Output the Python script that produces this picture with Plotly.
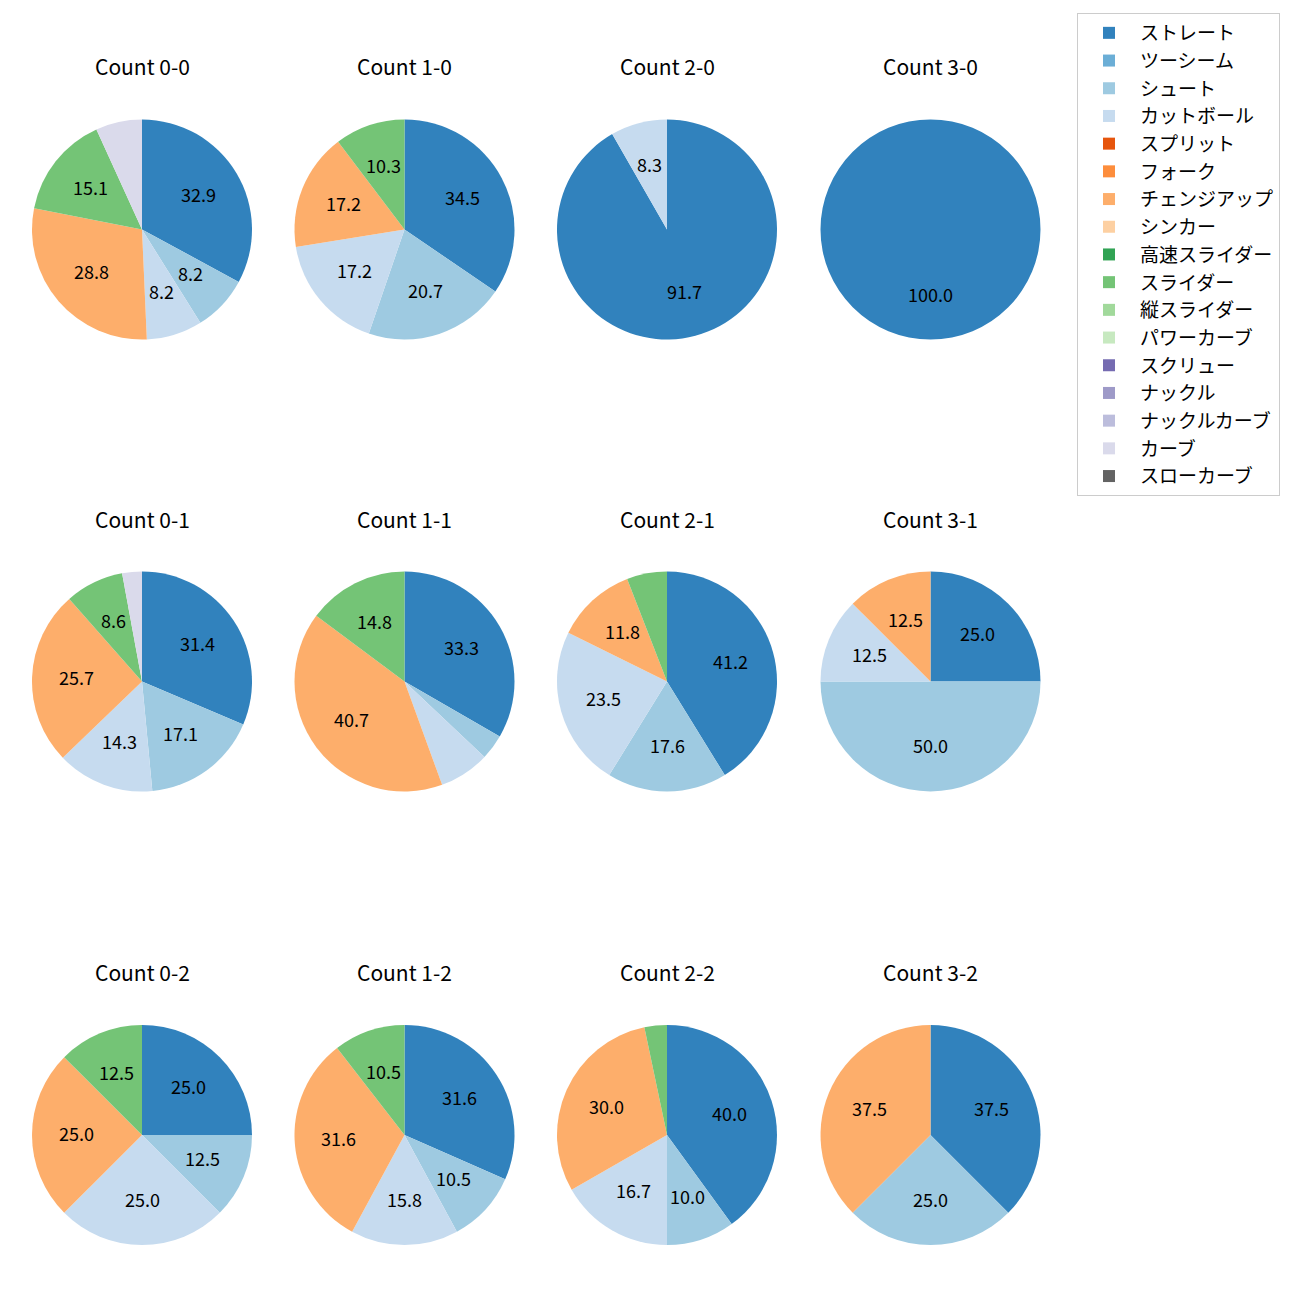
import math
import plotly.graph_objects as go

# ---------------- data ----------------
pitch_types = ["ストレート", "ツーシーム", "シュート", "カットボール", "スプリット", "フォーク",
               "チェンジアップ", "シンカー", "高速スライダー", "スライダー", "縦スライダー",
               "パワーカーブ", "スクリュー", "ナックル", "ナックルカーブ", "カーブ", "スローカーブ"]
pitch_colors = ["#3182bd", "#6baed6", "#9ecae1", "#c6dbef", "#e6550d", "#fd8d3c",
                "#fdae6b", "#fdd0a2", "#31a354", "#74c476", "#a1d99b",
                "#c7e9c0", "#756bb1", "#9e9ac8", "#bcbddc", "#dadaeb", "#636363"]

count_titles = ["Count 0-0", "Count 1-0", "Count 2-0", "Count 3-0",
                "Count 0-1", "Count 1-1", "Count 2-1", "Count 3-1",
                "Count 0-2", "Count 1-2", "Count 2-2", "Count 3-2"]

#            Str   2S   Sht   Cut  Spl Frk  Chg  Snk HSl  Sl   VSl PC Scr Kn KnC  Crv SlC
count_0_0 = [32.9, 0, 8.2, 8.2, 0, 0, 28.8, 0, 0, 15.1, 0, 0, 0, 0, 0, 6.8, 0]
count_1_0 = [34.5, 0, 20.7, 17.2, 0, 0, 17.2, 0, 0, 10.3, 0, 0, 0, 0, 0, 0, 0]
count_2_0 = [91.7, 0, 0, 8.3, 0, 0, 0, 0, 0, 0, 0, 0, 0, 0, 0, 0, 0]
count_3_0 = [100.0, 0, 0, 0, 0, 0, 0, 0, 0, 0, 0, 0, 0, 0, 0, 0, 0]
count_0_1 = [31.4, 0, 17.1, 14.3, 0, 0, 25.7, 0, 0, 8.6, 0, 0, 0, 0, 0, 2.9, 0]
count_1_1 = [33.3, 0, 3.7, 7.4, 0, 0, 40.7, 0, 0, 14.8, 0, 0, 0, 0, 0, 0, 0]
count_2_1 = [41.2, 0, 17.6, 23.5, 0, 0, 11.8, 0, 0, 5.9, 0, 0, 0, 0, 0, 0, 0]
count_3_1 = [25.0, 0, 50.0, 12.5, 0, 0, 12.5, 0, 0, 0, 0, 0, 0, 0, 0, 0, 0]
count_0_2 = [25.0, 0, 12.5, 25.0, 0, 0, 25.0, 0, 0, 12.5, 0, 0, 0, 0, 0, 0, 0]
count_1_2 = [31.6, 0, 10.5, 15.8, 0, 0, 31.6, 0, 0, 10.5, 0, 0, 0, 0, 0, 0, 0]
count_2_2 = [40.0, 0, 10.0, 16.7, 0, 0, 30.0, 0, 0, 3.3, 0, 0, 0, 0, 0, 0, 0]
count_3_2 = [37.5, 0, 25.0, 0, 0, 0, 37.5, 0, 0, 0, 0, 0, 0, 0, 0, 0, 0]

all_counts = [count_0_0, count_1_0, count_2_0, count_3_0,
              count_0_1, count_1_1, count_2_1, count_3_1,
              count_0_2, count_1_2, count_2_2, count_3_2]

# ---------------- layout geometry (pixels) ----------------
W = H = 1300
col_cx = [142, 404.5, 667, 930.5]
row_cy = [229.5, 681.5, 1135]
R = 110
title_dy = 163  # title centre above pie centre
label_r = 0.6
min_label = 8.0
FONT = "Noto Sans CJK JP"

fig = go.Figure()
annotations = []

for k, vals in enumerate(all_counts):
    r, c = divmod(k, 4)
    cx, cy = col_cx[c], row_cy[r]
    fig.add_trace(go.Pie(
        labels=pitch_types,
        values=vals,
        marker=dict(colors=pitch_colors, line=dict(width=0)),
        sort=False,
        direction="clockwise",
        rotation=0,
        textinfo="none",
        hoverinfo="label+percent",
        showlegend=(k == 0),
        domain=dict(x=[(cx - R) / W, (cx + R) / W],
                    y=[1 - (cy + R) / H, 1 - (cy - R) / H]),
    ))
    # title
    annotations.append(dict(
        text=count_titles[k], x=cx / W, y=1 - (cy - title_dy) / H,
        xref="paper", yref="paper", showarrow=False,
        font=dict(size=21, color="#000000", family=FONT),
        xanchor="center", yanchor="middle"))
    # percentage labels (matplotlib-like, at 0.6 radius)
    total = sum(vals)
    cum = 0.0
    for v in vals:
        if v <= 0:
            continue
        frac = v / total
        mid = math.radians(90 - 360 * (cum + frac / 2))
        cum += frac
        pct = 100 * frac
        if pct < min_label:
            continue
        lx = cx + label_r * R * math.cos(mid)
        ly = cy - label_r * R * math.sin(mid)
        annotations.append(dict(
            text=f"{pct:.1f}", x=lx / W, y=1 - ly / H,
            xref="paper", yref="paper", showarrow=False, yshift=2,
            font=dict(size=18, color="#000000", family=FONT),
            xanchor="center", yanchor="middle"))

fig.update_layout(
    width=W, height=H,
    margin=dict(l=0, r=0, t=0, b=0),
    paper_bgcolor="white", plot_bgcolor="white",
    font=dict(family=FONT, size=18, color="#000000"),
    annotations=annotations,
    legend=dict(
        x=1077 / W, y=1 - 13 / H, xanchor="left", yanchor="top",
        bgcolor="white", bordercolor="#cccccc", borderwidth=1,
        font=dict(size=19, family=FONT, color="#000000"),
        itemwidth=52,
        traceorder="normal",
    ),
)

fig.write_html("out.html")
